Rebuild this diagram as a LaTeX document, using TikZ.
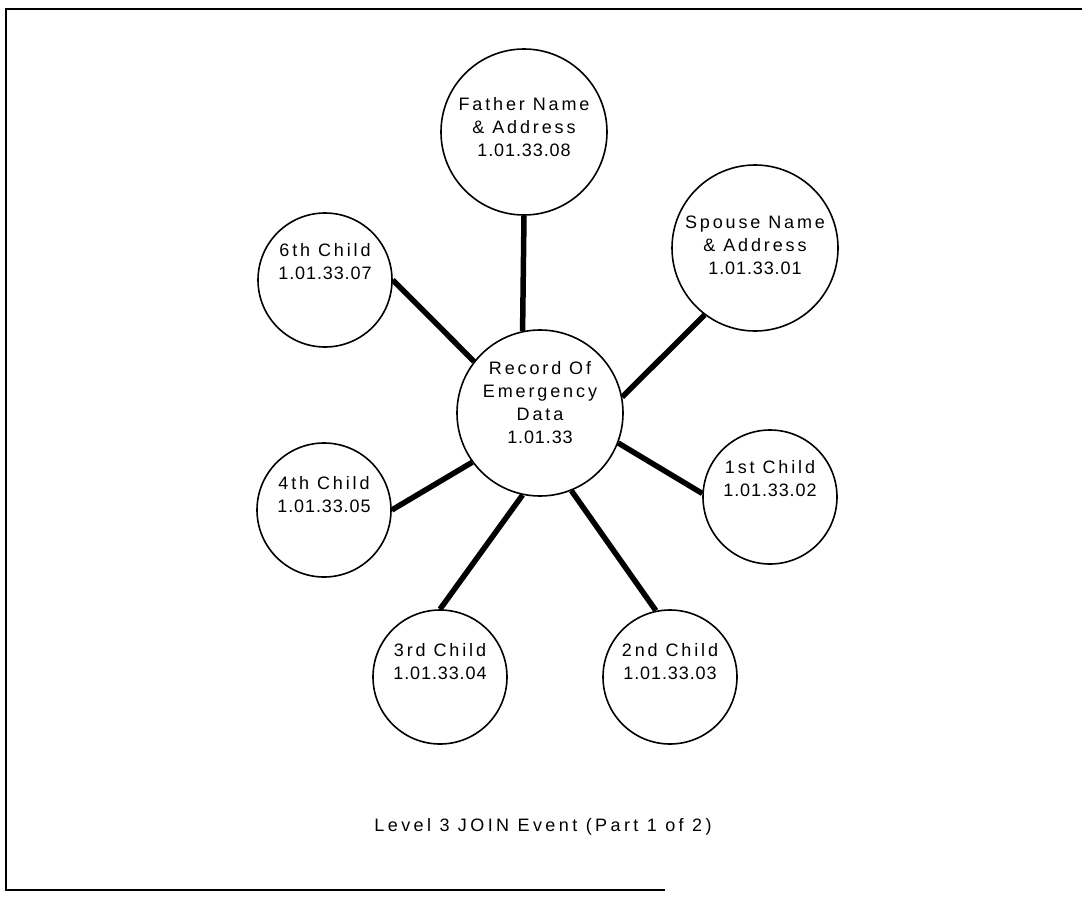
\documentclass[tikz,border=0pt]{standalone}
\usepackage{fontspec}
\setmainfont{Liberation Sans}
\newfontfamily\bubblefont[LetterSpace=16]{Liberation Sans}
\newfontfamily\idfont[LetterSpace=5]{Liberation Sans}
\newfontfamily\eventfont[LetterSpace=19]{Liberation Sans}
\tikzset{
  bubble/.style={circle,draw,line width=1.6pt,minimum size=#1,inner sep=0pt},
  bubbletext/.style={align=center,font=\bubblefont\fontsize{18}{23}\selectfont},
  spoke/.style={line width=5.5pt},
}
\begin{document}
\begin{tikzpicture}[x=1pt,y=-1pt]
\useasboundingbox (0,0) rectangle (1082,897);
\draw[line width=2.6pt] (1082,9) -- (6,9) -- (6,890) -- (665,890);

\node[bubble=166] (rec) at (540,413) {};
\node[bubbletext] (rectxt) at ([yshift=10pt]rec.center) {Record Of\\Emergency\\Data\\\idfont 1.01.33};

\node[bubble=166] (fa) at (524,132) {};
\node[bubbletext] (fatxt) at ([yshift=5pt]fa.center) {Father Name\\\& Address\\\idfont 1.01.33.08};

\node[bubble=166] (sp) at (755,248) {};
\node[bubbletext] (sptxt) at ([yshift=3pt]sp.center) {Spouse Name\\\& Address\\\idfont 1.01.33.01};

\node[bubble=134] (k1) at (770,497) {};
\node[bubbletext] (k1txt) at ([yshift=18pt]k1.center) {1st Child\\\idfont 1.01.33.02};

\node[bubble=134] (k2) at (670,677) {};
\node[bubbletext] (k2txt) at ([yshift=15.5pt]k2.center) {2nd Child\\\idfont 1.01.33.03};

\node[bubble=134] (k3) at (440,677) {};
\node[bubbletext] (k3txt) at ([yshift=15.5pt]k3.center) {3rd Child\\\idfont 1.01.33.04};

\node[bubble=134] (k4) at (324,510) {};
\node[bubbletext] (k4txt) at ([yshift=15pt]k4.center) {4th Child\\\idfont 1.01.33.05};

\node[bubble=134] (k6) at (325,280) {};
\node[bubbletext] (k6txt) at ([yshift=18pt]k6.center) {6th Child\\\idfont 1.01.33.07};

\draw[spoke] (fa.south) -- (rec.102);
\draw[spoke] (sp.233) -- (rec.11);
\draw[spoke] (k1.177) -- (rec.339);
\draw[spoke] (k2.102) -- (rec.292);
\draw[spoke] (k3.north) -- (rec.258);
\draw[spoke] (k4.east) -- (rec.216);
\draw[spoke] (k6.east) -- (rec.142);

\node[font=\eventfont\fontsize{18}{23}\selectfont] (event) at (543,827) {Level 3 JOIN Event (Part 1 of 2)};
\end{tikzpicture}
\end{document}
